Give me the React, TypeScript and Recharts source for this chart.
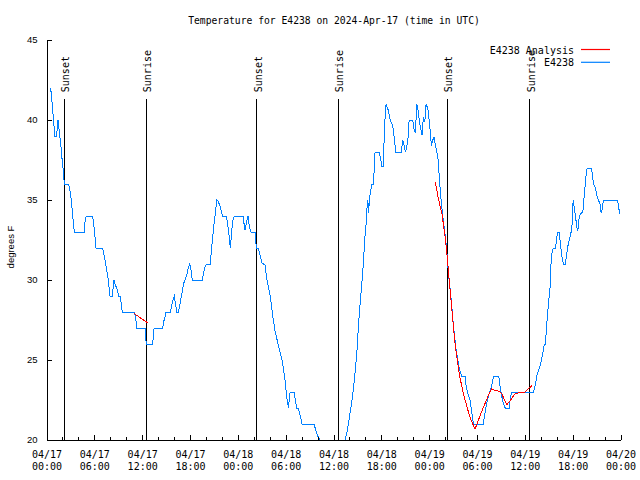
import { LineChart, Line, XAxis, YAxis, ReferenceLine } from 'recharts'

const MONO = '"DejaVu Sans Mono", "Liberation Mono", monospace'
const SANS = '"Liberation Sans", Arial, sans-serif'
const OBS_COLOR = '#0080ff'
const ANALYSIS_COLOR = '#ff0000'

// [hours since 2024-04-17 00:00 UTC, degrees F]
const obsApr17Night: [number, number][] = [
    [0.41, 42], [0.54, 41.7], [0.66, 40.9], [0.79, 40.2], [0.92, 39.4], [0.97, 39], [1.22, 39], [1.34, 40], [1.42, 40],
    [1.51, 39.4], [1.72, 38.5], [1.88, 37.6], [2.05, 36.8], [2.13, 36.25], [2.17, 36], [2.67, 36], [2.8, 35.8],
    [2.97, 35.3], [3.1, 34.7], [3.26, 33.85], [3.43, 33], [4.68, 33], [4.77, 33.65], [4.93, 34], [5.68, 34],
    [5.81, 33.75], [5.98, 32.9], [6.15, 32], [6.99, 32], [7.15, 31.56], [7.32, 31.15], [7.49, 30.6], [7.69, 30],
    [7.9, 29], [8.19, 29], [8.41, 30], [8.57, 29.7], [8.82, 29.4], [9.0, 29], [9.2, 29], [9.37, 28.2], [9.5, 28],
    [10.95, 28], [11.13, 27.6], [11.25, 27], [12.3, 27], [12.33, 26.56],
]
const obsApr17Day: [number, number][] = [
    [12.46, 26], [13.26, 26], [13.43, 27], [14.52, 27], [14.59, 27.3], [14.8, 27.7], [14.93, 28], [15.47, 28],
    [15.64, 28.4], [15.85, 28.85], [15.97, 29], [16.15, 28.4], [16.27, 28], [16.47, 28], [16.6, 28.3], [16.81, 28.85],
    [16.98, 29.3], [17.15, 29.8], [17.35, 30.04], [17.53, 30.3], [17.69, 30.7], [17.9, 31], [18.07, 30.6], [18.23, 30],
    [19.49, 30], [19.61, 30.4], [19.82, 30.8], [19.99, 31], [20.49, 31], [20.61, 31.8], [20.79, 32.7], [20.95, 33.5],
    [21.12, 34.2], [21.29, 35], [21.49, 34.9], [21.71, 34.6], [21.92, 34.2], [22.04, 34], [22.46, 34], [22.62, 33.65],
    [22.8, 33], [23.0, 32], [23.17, 33.1], [23.34, 33.8], [23.5, 34],
]
const obsApr18Night: [number, number][] = [
    [24.59, 34], [24.72, 33.5], [24.84, 33.1], [25.06, 33.7], [25.22, 34], [25.38, 33.3], [25.6, 33], [26.1, 33],
    [26.19, 32.3], [26.31, 32], [26.51, 32], [26.73, 31.56], [26.98, 31.04], [27.14, 31], [27.35, 30.94], [27.56, 30.1],
    [27.77, 29.6], [27.98, 29.06], [28.19, 28.3], [28.39, 27.5], [28.61, 26.8], [28.82, 26.35], [29.02, 25.9],
    [29.23, 25.5], [29.45, 25.1], [29.65, 24.5], [29.86, 23.75], [30.07, 22.7], [30.28, 22], [30.49, 23], [30.99, 23],
    [31.15, 22.5], [31.33, 22], [31.53, 22], [31.74, 21.56], [31.99, 21], [33.5, 21], [33.66, 20.7], [33.91, 20.3],
    [34.25, 20], [34.88, 19], [35.63, 18.4], [36.39, 18.5], [37.0, 19.2], [37.39, 20], [37.6, 20.4], [37.8, 21],
    [38.02, 21.7], [38.23, 22.4], [38.43, 23.2], [38.64, 24.2], [38.86, 25.4], [39.06, 27.1], [39.27, 28.5],
    [39.49, 29.8], [39.69, 31.1], [39.86, 32.6], [40.03, 33.5], [40.15, 34.6], [40.24, 35], [40.34, 34.2], [40.44, 35],
    [40.57, 35.5], [40.74, 36], [40.94, 36],
]
const obsApr18Day: [number, number][] = [
    [41.07, 37.1], [41.15, 38], [41.69, 38], [41.87, 37.5], [42.0, 37.1], [42.2, 37.1], [42.32, 39.5], [42.53, 41],
    [42.66, 40.8], [42.82, 40.6], [43.04, 40], [43.25, 39.8], [43.45, 39.4], [43.58, 38.75], [43.75, 38], [44.42, 38],
    [44.63, 38.75], [44.79, 38.4], [44.96, 38], [45.13, 38.3], [45.3, 38.96], [45.42, 40], [45.88, 40], [46.05, 39.4],
    [46.21, 39.2], [46.38, 41], [46.55, 40.6], [46.71, 39.9], [46.89, 39.4], [47.05, 39.06], [47.21, 40.2],
    [47.39, 39.9], [47.55, 41], [47.77, 40.7], [47.93, 40], [48.09, 39.2], [48.22, 38.4], [48.4, 38.75], [48.56, 38.96],
    [48.72, 38.4], [48.9, 38], [49.06, 37.5], [49.22, 36.3], [49.4, 35.2], [49.56, 34.4], [49.72, 33.65], [49.97, 32.7],
]
const obsApr19Night: [number, number][] = [
    [50.15, 31.8], [50.31, 30.7], [50.48, 29.8], [50.65, 29.06], [50.82, 28.1], [50.98, 27.1], [51.16, 26.35],
    [51.32, 25.6], [51.53, 25], [51.73, 24.4], [52.03, 24], [52.45, 24], [52.57, 23.4], [52.74, 23], [53.07, 22.5],
    [53.29, 21.7], [53.49, 21], [54.74, 21], [54.87, 21.5], [55.04, 22], [55.25, 22.5], [55.46, 22.9], [55.67, 23.2],
    [55.87, 23.6], [56.0, 24], [56.67, 24], [56.84, 23.3], [57.05, 22.7], [57.25, 22.3], [57.47, 22], [57.97, 22],
    [58.09, 22.5], [58.26, 23], [61.02, 23],
]
const obsApr19Day: [number, number][] = [
    [61.23, 23.4], [61.44, 24], [61.69, 24.4], [61.94, 24.8], [62.14, 25.3], [62.36, 25.9], [62.52, 26], [62.7, 27.3],
    [62.9, 28.5], [63.11, 29.6], [63.24, 31.25], [63.4, 31.9], [63.53, 32], [63.74, 32], [63.86, 32.3], [64.03, 33],
    [64.24, 33], [64.4, 32.3], [64.58, 31.5], [64.78, 31], [64.99, 31], [65.16, 31.5], [65.33, 32.1], [65.5, 32.5],
    [65.71, 32.9], [65.87, 33.5], [66.0, 35], [66.12, 34.6], [66.29, 34], [66.46, 33.3], [66.59, 33.1], [66.71, 33.75],
    [66.88, 34.1], [67.04, 34.2], [67.21, 34.2], [67.29, 34.8], [67.42, 35.4], [67.59, 36.4], [67.72, 36.9], [67.84, 37],
    [68.26, 37], [68.38, 36.7], [68.55, 36], [68.76, 35.8], [68.97, 35.3], [69.17, 35], [69.39, 34.7], [69.51, 34.2],
    [69.64, 34.4], [69.8, 35], [71.56, 35], [71.68, 34.6], [71.86, 34.1],
]

const analysisApr17: [number, number][] = [[10.95, 27.9], [11.8, 27.6], [12.71, 27.3]]
const analysisApr19: [number, number][] = [
    [48.72, 36.1], [48.97, 35.4], [49.22, 34.8], [49.52, 34.2], [49.72, 33.5], [49.94, 32.7], [50.15, 31.7],
    [50.35, 30.6], [50.56, 29.4], [50.78, 28.2], [50.98, 27.1], [51.19, 26], [51.4, 25.2], [51.61, 24.5],
    [51.82, 23.85], [52.23, 22.9], [52.66, 22.1], [53.07, 21.4], [53.49, 20.9], [53.7, 20.7], [54.12, 21.25],
    [54.54, 21.8], [54.96, 22.3], [55.37, 22.8], [55.8, 23.2], [56.21, 23.1], [56.63, 23.06], [57.05, 22.9],
    [57.38, 22.5], [57.68, 22.2], [58.0, 22.4], [58.3, 22.6], [58.72, 22.9], [59.35, 22.96], [59.97, 23],
    [60.39, 23.2], [60.82, 23.4],
]

const sunEventHours = [2.17, 12.46, 26.31, 36.55, 50.23, 60.57]
const sunEventNames = ['Sunset', 'Sunrise', 'Sunset', 'Sunrise', 'Sunset', 'Sunrise']

const tickDates = ['04/17', '04/17', '04/17', '04/17', '04/18', '04/18', '04/18', '04/18', '04/19', '04/19', '04/19', '04/19', '04/20']
const tickTimes = ['00:00', '06:00', '12:00', '18:00', '00:00', '06:00', '12:00', '18:00', '00:00', '06:00', '12:00', '18:00', '00:00']
const yTicks = [20, 25, 30, 35, 40, 45]
const hourTicks = Array.from({ length: 37 }, (_, i) => i * 2)

const legendItems = [
    { name: 'E4238 Analysis', color: ANALYSIS_COLOR },
    { name: 'E4238', color: OBS_COLOR },
]

const toRows = (pts: [number, number][]) => pts.map(([h, t]) => ({ h, t }))
const obsRows = toRows([...obsApr17Night, ...obsApr17Day, ...obsApr18Night, ...obsApr18Day, ...obsApr19Night, ...obsApr19Day])

const BottomTick = ({ x, y, payload }: any) => {
    const major = payload.value % 6 === 0
    const i = payload.value / 6
    return (
        <g>
            <line x1={x} x2={x} y1={y} y2={y - (major ? 5 : 3)} stroke="#000" shapeRendering="crispEdges" />
            {major && (
                <text x={x} y={y + 17.5} textAnchor="middle" fontFamily={MONO} fontSize={10} fill="#000">
                    <tspan x={x}>{tickDates[i]}</tspan>
                    <tspan x={x} dy={12.7}>{tickTimes[i]}</tspan>
                </text>
            )}
        </g>
    )
}

const TopTick = ({ x, y, payload }: any) => (
    <line x1={x} x2={x} y1={y} y2={y + (payload.value % 6 === 0 ? 5 : 3)} stroke="#000" shapeRendering="crispEdges" />
)

const LeftTick = ({ x, y, payload }: any) => (
    <g>
        <line x1={x} x2={x + 5} y1={y} y2={y} stroke="#000" shapeRendering="crispEdges" />
        <text x={x - 9.5} y={y + 3.4} textAnchor="end" fontFamily={SANS} fontSize={9.5} fill="#000">{payload.value}</text>
    </g>
)

const RightTick = ({ x, y }: any) => (
    <line x1={x} x2={x - 5} y1={y} y2={y} stroke="#000" shapeRendering="crispEdges" />
)

const sunShape = (name: string) => (p: any) => (
    <g>
        <line x1={p.x1} y1={p.y1} x2={p.x2} y2={p.y2} stroke="#000" strokeWidth={1} shapeRendering="crispEdges" />
        <text transform={`translate(${p.x1 + 5}, ${p.y1 - 7}) rotate(-90)`} fontFamily={MONO} fontSize={10} fill="#000">{name}</text>
    </g>
)

export default function App() {
    return (
        <div style={{ position: 'absolute', left: 0, top: 0, width: 640, height: 480, background: '#fff' }}>
            <LineChart width={640} height={480} margin={{ top: 40, right: 19, bottom: 0, left: 0 }}>
                <text x={334} y={23.5} textAnchor="middle" fontFamily={MONO} fontSize={9.7} fill="#000">
                    Temperature for E4238 on 2024-Apr-17 (time in UTC)
                </text>
                <XAxis
                    dataKey="h" type="number" domain={[0, 72]} ticks={hourTicks} interval={0} allowDataOverflow
                    height={40} tickSize={0} tickMargin={0} tickLine={false} tick={BottomTick}
                    axisLine={{ stroke: '#000', shapeRendering: 'crispEdges' }}
                />
                <XAxis
                    xAxisId="top" orientation="top" dataKey="h" type="number" domain={[0, 72]} ticks={hourTicks} interval={0}
                    height={0} tickSize={0} tickMargin={0} tickLine={false} tick={TopTick}
                    axisLine={{ stroke: '#000', shapeRendering: 'crispEdges' }}
                />
                <YAxis
                    type="number" domain={[20, 45]} ticks={yTicks} interval={0} allowDataOverflow width={47}
                    tickSize={0} tickMargin={0} tickLine={false} tick={LeftTick}
                    axisLine={{ stroke: '#000', shapeRendering: 'crispEdges' }}
                    label={{
                        content: () => (
                            <text transform="translate(14, 247) rotate(-90)" textAnchor="middle" fontFamily={SANS} fontSize={9.5} fill="#000">degrees F</text>
                        ),
                    }}
                />
                <YAxis
                    yAxisId="right" orientation="right" type="number" domain={[20, 45]} ticks={yTicks} interval={0} width={0}
                    tickSize={0} tickMargin={0} tickLine={false} tick={RightTick}
                    axisLine={{ stroke: '#000', shapeRendering: 'crispEdges' }}
                />
                {sunEventHours.map((h, i) => (
                    <ReferenceLine
                        key={`sun-${i}`}
                        segment={[{ x: h, y: 41.3 }, { x: h, y: 20 }]}
                        stroke="#000"
                        shape={sunShape(sunEventNames[i])}
                    />
                ))}
                <Line data={obsRows} dataKey="t" name="E4238" stroke={OBS_COLOR} strokeWidth={1} dot={false}
                    shapeRendering="crispEdges" isAnimationActive={false} />
                <Line data={toRows(analysisApr17)} dataKey="t" name="E4238 Analysis" stroke={ANALYSIS_COLOR} strokeWidth={1}
                    dot={false} shapeRendering="crispEdges" isAnimationActive={false} />
                <Line data={toRows(analysisApr19)} dataKey="t" name="E4238 Analysis" stroke={ANALYSIS_COLOR} strokeWidth={1}
                    dot={false} shapeRendering="crispEdges" isAnimationActive={false} />
                {legendItems.map((item, i) => (
                    <g key={item.name}>
                        <text x={574} y={53.7 + i * 12.5} textAnchor="end" fontFamily={MONO} fontSize={10} fill="#000">{item.name}</text>
                        <line x1={581} x2={610} y1={49.5 + i * 12.8} y2={49.5 + i * 12.8} stroke={item.color} strokeWidth={1.2} />
                    </g>
                ))}
            </LineChart>
        </div>
    )
}
